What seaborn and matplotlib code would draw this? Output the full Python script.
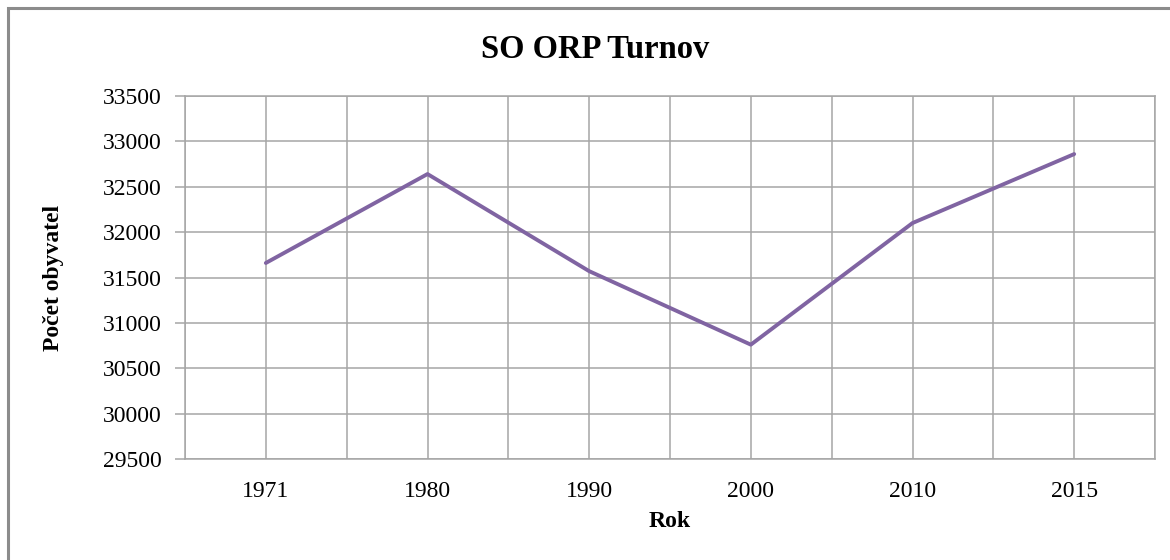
import numpy as np
import pandas as pd
import matplotlib
matplotlib.use("Agg")
import matplotlib.pyplot as plt
import seaborn as sns
from matplotlib.patches import Rectangle

# data
roky = ["1971", "1980", "1990", "2000", "2010", "2015"]
obyvatel = [31660, 32640, 31570, 30760, 32100, 32860]
y_ticks = [29500, 30000, 30500, 31000, 31500, 32000, 32500, 33000, 33500]

df = pd.DataFrame({"pos": np.arange(len(roky)), "obyvatel": obyvatel})

sns.set_theme(style="white")
plt.rcParams["font.family"] = ["Liberation Serif", "DejaVu Serif"]
plt.rcParams["text.color"] = "black"
plt.rcParams["axes.labelcolor"] = "black"
plt.rcParams["xtick.color"] = "black"
plt.rcParams["ytick.color"] = "black"

fig = plt.figure(figsize=(11.7, 5.6), dpi=100)
ax = fig.add_axes([185 / 1170, 1 - 459 / 560, 970 / 1170, 363 / 560])

grid_c = "#a6a6a6"
sns.lineplot(data=df, x="pos", y="obyvatel", ax=ax, color="#8064A2", lw=2.8, zorder=3)

ax.set_xlim(-0.5, len(roky) - 0.5)
ax.set_ylim(y_ticks[0], y_ticks[-1])
ax.set_yticks(y_ticks)
ax.set_yticklabels([str(v) for v in y_ticks], fontsize=17)
ax.set_xticks(np.arange(len(roky)))
ax.set_xticklabels(roky, fontsize=17)
# gridlines at every half category
for gx in np.arange(-0.5, len(roky), 0.5):
    ax.axvline(gx, color=grid_c, lw=1.1, zorder=1)
for gy in y_ticks:
    ax.axhline(gy, color=grid_c, lw=1.1, zorder=1)
for s in ax.spines.values():
    s.set_color(grid_c)
    s.set_linewidth(1.1)
ax.tick_params(axis="y", length=7, color=grid_c, width=1.1, pad=10, left=True,
               labelcolor="black")
ax.tick_params(axis="x", length=0, pad=16, labelcolor="black")

ax.set_xlabel("Rok", fontsize=17, fontweight="bold", labelpad=6)
ax.set_ylabel("Počet obyvatel", fontsize=17, fontweight="bold", labelpad=28)
fig.text(595 / 1170, 1 - 49 / 560, "SO ORP Turnov", ha="center", va="center",
         fontsize=23.5, fontweight="bold")

# outer chart frame
fig.patches.append(Rectangle((8 / 1170, -0.1), 1.2, 1 - 8 / 560 + 0.1,
                             transform=fig.transFigure, fill=False,
                             edgecolor="#8c8c8c", lw=2.2))

fig.savefig("out.png", dpi=100)
